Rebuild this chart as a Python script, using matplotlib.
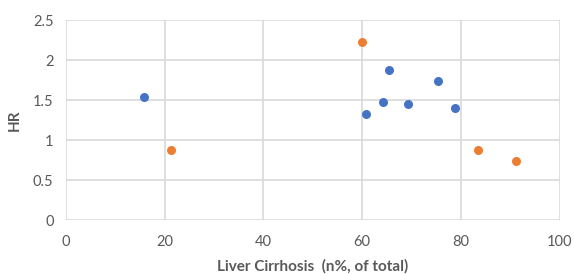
import matplotlib.pyplot as plt

# Blue series
blue_x = [15.8, 65.5, 75.4, 64.2, 69.4, 60.8, 78.9]
blue_y = [1.54, 1.87, 1.74, 1.47, 1.45, 1.32, 1.40]

# Orange series
orange_x = [21.3, 60.0, 83.5, 91.1]
orange_y = [0.875, 2.23, 0.87, 0.74]

x_ticks = [0, 20, 40, 60, 80, 100]
y_ticks = [0, 0.5, 1, 1.5, 2, 2.5]

plt.rcParams['font.family'] = ['Lato', 'DejaVu Sans']

fig = plt.figure(figsize=(5.74, 2.74), dpi=100)
ax = fig.add_axes([66 / 574, 1 - 220 / 274, (559.5 - 66) / 574, 200 / 274])

ax.scatter(blue_x, blue_y, s=42, color='#4472C4', zorder=3, linewidths=0)
ax.scatter(orange_x, orange_y, s=42, color='#ED7D31', zorder=3, linewidths=0)

ax.set_xlim(0, 100)
ax.set_ylim(0, 2.5)
ax.set_xticks(x_ticks)
ax.set_yticks(y_ticks)
ax.set_yticklabels(['0', '0.5', '1', '1.5', '2', '2.5'])
ax.grid(True, color='#D9D9D9', linewidth=1.2)
ax.set_axisbelow(True)
for s in ax.spines.values():
    s.set_visible(False)
ax.tick_params(axis='x', length=0, labelsize=10.5, colors='#595959', pad=11)
ax.tick_params(axis='y', length=0, labelsize=10.5, colors='#595959', pad=9)

ax.set_xlabel('Liver Cirrhosis  (n%, of total)', fontsize=11, fontweight='bold',
              color='#595959', labelpad=7)
ax.set_ylabel('HR', fontsize=11, fontweight='bold', color='#595959', labelpad=8)

fig.savefig('out.png', dpi=100)
